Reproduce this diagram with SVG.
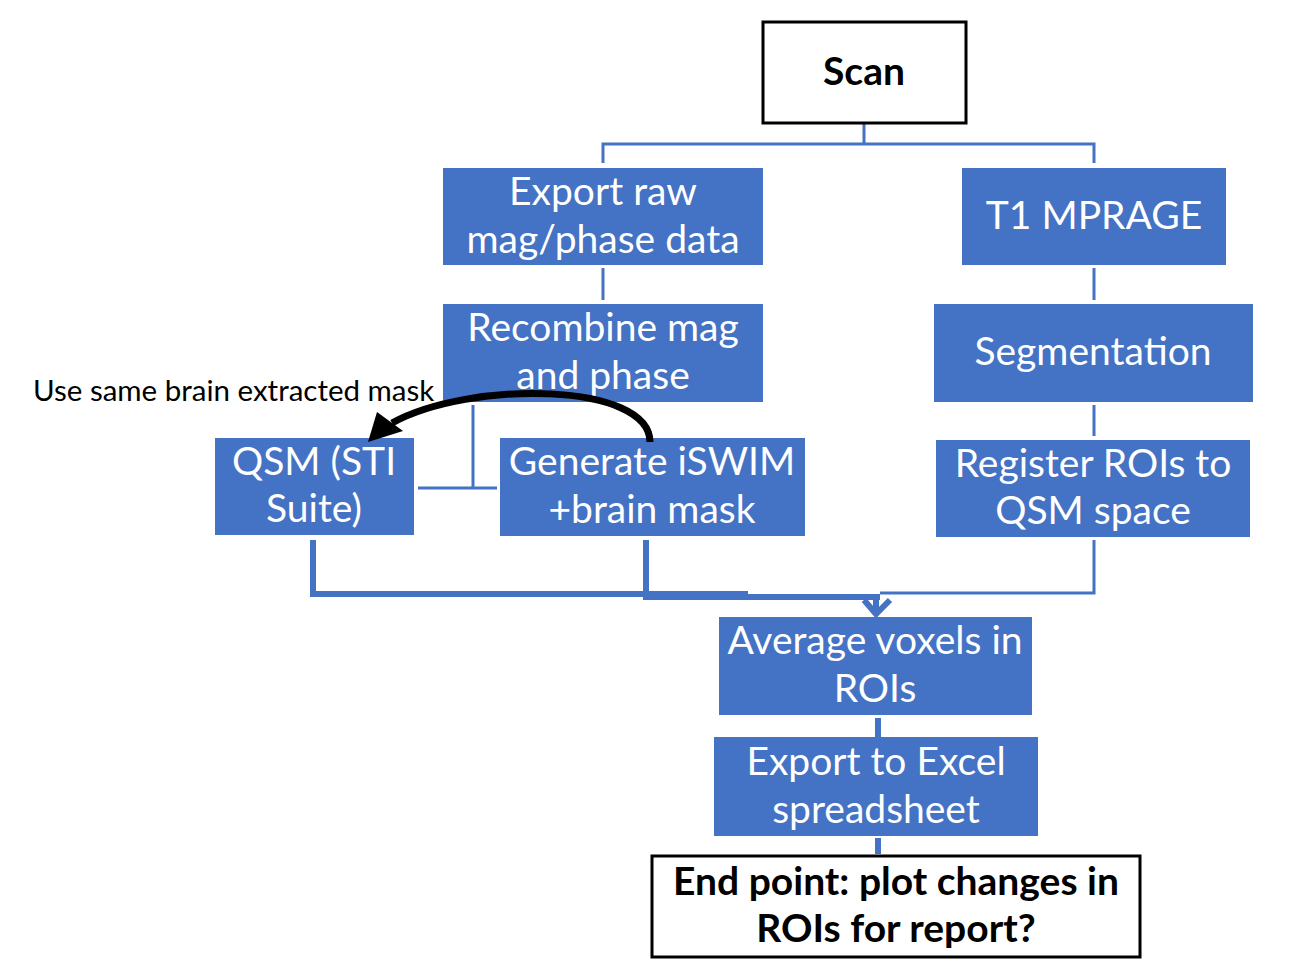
<svg xmlns="http://www.w3.org/2000/svg" width="1296" height="976" viewBox="0 0 1296 976">
<defs>
<style>
.box{fill:#4472C4;}
.wbox{fill:#fff;stroke:#000;stroke-width:3;}
.t{font-family:Lato,"Liberation Sans",sans-serif;font-size:39px;fill:#fff;text-anchor:middle;}
.b{font-family:Lato,"Liberation Sans",sans-serif;font-size:39px;font-weight:bold;fill:#000;text-anchor:middle;}
.thin{fill:none;stroke:#4472C4;stroke-width:3;}
.thick{fill:none;stroke:#4472C4;stroke-width:6;}
</style>
</defs>
<rect width="1296" height="976" fill="#fff"/>
<g id="connectors">
<path class="thin" d="M864 124 V144 M603 163 V144 H1094 V163"/>
<path class="thin" d="M603 268 V300 M1094 268 V300 M1094 405 V436"/>
<path class="thin" d="M473 405 V488 M418 488 H497"/>
<path class="thin" d="M1094 540 V593 H880"/>
<path class="thick" d="M313 540 V594 H748"/>
<path class="thick" d="M646 540 V597 H880"/>
<path class="thick" d="M876 597 V614 M864 600 L876 614 L890 600"/>
<path class="thick" d="M878 718 V737 M878 838 V854"/>
</g>
<g id="scan"><rect class="wbox" x="763" y="22" width="203" height="101"/><text class="b" x="864" y="85">Scan</text></g>
<g id="export-raw"><rect class="box" x="443" y="168" width="320" height="97"/><text class="t" x="603" y="205">Export raw</text><text class="t" x="603" y="253">mag/phase data</text></g>
<g id="t1"><rect class="box" x="962" y="168" width="264" height="97"/><text class="t" x="1094" y="229">T1 MPRAGE</text></g>
<g id="recombine"><rect class="box" x="443" y="304" width="320" height="98"/><text class="t" x="603" y="341">Recombine mag</text><text class="t" x="603" y="389">and phase</text></g>
<g id="segmentation"><rect class="box" x="934" y="304" width="319" height="98"/><text class="t" x="1093" y="365">Segmentation</text></g>
<g id="register"><rect class="box" x="936" y="440" width="314" height="97"/><text class="t" x="1093" y="477">Register ROIs to</text><text class="t" x="1093" y="524">QSM space</text></g>
<g id="qsm"><rect class="box" x="215" y="438" width="199" height="97"/><text class="t" x="314" y="475">QSM (STI</text><text class="t" x="314" y="522">Suite)</text></g>
<g id="iswim"><rect class="box" x="500" y="438" width="305" height="98"/><text class="t" x="652" y="475">Generate iSWIM</text><text class="t" x="652" y="523">+brain mask</text></g>
<g id="mask-label"><text x="33" y="401" font-family="Lato,'Liberation Sans',sans-serif" font-size="29.5" fill="#000">Use same brain extracted mask</text></g>
<g id="average"><rect class="box" x="719" y="617" width="313" height="98"/><text class="t" x="875" y="654">Average voxels in</text><text class="t" x="875" y="702">ROIs</text></g>
<g id="excel"><rect class="box" x="714" y="737" width="324" height="99"/><text class="t" x="876" y="775">Export to Excel</text><text class="t" x="876" y="823">spreadsheet</text></g>
<g id="endpoint"><rect class="wbox" x="652" y="856" width="488" height="101"/><text class="b" x="896" y="895">End point: plot changes in</text><text class="b" x="896" y="942">ROIs for report?</text></g>
<g id="mask-arrow">
<path d="M650 442 C650 382 470 380 392 423" fill="none" stroke="#000" stroke-width="7"/>
<polygon points="368,442 377,412 403,431" fill="#000"/>
</g>
</svg>
